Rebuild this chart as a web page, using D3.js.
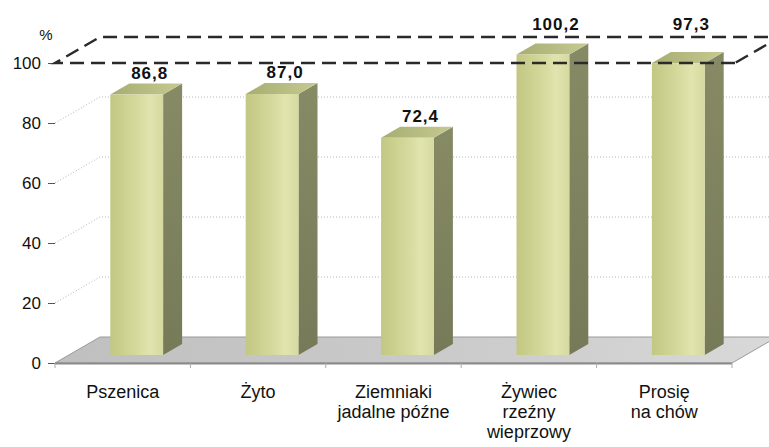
<!DOCTYPE html>
<html>
<head>
<meta charset="utf-8">
<script src="https://cdn.jsdelivr.net/npm/d3@7"></script>
<style>
  body { margin: 0; background: #fff; }
  text { font-family: "Liberation Sans", Arial, sans-serif; fill: #111; }
</style>
</head>
<body>
<div id="chart"></div>
<script>
//DATA
let categories = ["Pszenica", "Żyto", "Ziemniaki jadalne późne", "Żywiec rzeźny wieprzowy", "Prosię na chów"];
let categoryLines = [["Pszenica"], ["Żyto"], ["Ziemniaki", "jadalne późne"], ["Żywiec", "rzeźny", "wieprzowy"], ["Prosię", "na chów"]];
let values = [86.8, 87.0, 72.4, 100.2, 97.3];
let yTicks = [0, 20, 40, 60, 80, 100];
let gridTicks = [20, 40, 60, 80];
let yUnit = "%";

//DIMENSIONS
let WIDTH = 769, HEIGHT = 447;
let DX = 45, DY = 26;          // floor depth
let BAR_OFF_X = 14, BAR_OFF_Y = 8;   // bar position inside floor depth
let BAR_DX = 19, BAR_DY = 11;  // bar depth

let svg = d3.select("#chart").append("svg")
  .attr("width", WIDTH).attr("height", HEIGHT);

let x = d3.scaleBand().domain(categories).range([55, 732]);
let y = d3.scaleLinear().domain([0, 100]).range([363, 63]);
let barW = x.bandwidth() * 0.39;

//GRADIENTS
let defs = svg.append("defs");
function grad(id, stops, x2, y2) {
  let g = defs.append("linearGradient").attr("id", id)
    .attr("x1", 0).attr("y1", 0).attr("x2", x2).attr("y2", y2);
  stops.forEach(s => g.append("stop").attr("offset", s[0]).attr("stop-color", s[1]));
}
grad("front", [[0, "#c2c783"], [0.45, "#d3d799"], [0.75, "#e1e4ae"], [1, "#d6d99f"]], 1, 0);
grad("side", [[0, "#868b65"], [1, "#767a58"]], 0, 1);
grad("top", [[0, "#a7ad72"], [1, "#c6ca91"]], 1, 0);
grad("floor", [[0, "#bfbfbf"], [0.6, "#cccccc"], [1, "#d9d9d9"]], 1, 0);

//FLOOR
let x0 = x.range()[0], x1 = x.range()[1];
svg.append("path")
  .attr("d", `M${x0},${y(0)} L${x0 + DX},${y(0) - DY} L${x1 + DX},${y(0) - DY} L${x1},${y(0)} Z`)
  .attr("fill", "url(#floor)")
  .attr("stroke", "#9a9a9a").attr("stroke-width", 1);
svg.append("line")
  .attr("x1", x0).attr("x2", x1).attr("y1", y(0) + 0.5).attr("y2", y(0) + 0.5)
  .attr("stroke", "#8a8a8a").attr("stroke-width", 2);

//GRIDLINES (back wall + side diagonal)
let grid = svg.append("g").attr("stroke", "#b5b5b5").attr("stroke-dasharray", "1,2").attr("fill", "none");
gridTicks.forEach(t => {
  grid.append("path")
    .attr("d", `M${x0},${y(t)} L${x0 + DX},${y(t) - DY} L${x1 + DX},${y(t) - DY}`);
});

//Y AXIS
let yAxis = svg.append("g")
  .attr("transform", `translate(${x0},0)`)
  .call(d3.axisLeft(y).tickValues(yTicks).tickSize(7).tickPadding(7));
yAxis.select(".domain").remove();
yAxis.selectAll(".tick line").attr("stroke", "#555");
yAxis.selectAll(".tick text")
  .style("font-size", "17px").style("font-family", "Liberation Sans, Arial, sans-serif").attr("fill", "#111");

svg.append("text")
  .attr("x", 46).attr("y", 40)
  .attr("text-anchor", "middle")
  .style("font-size", "15px")
  .text(yUnit);

//CATEGORY TICKS
svg.append("g").selectAll("line")
  .data(categories.map(c => x(c)).concat([x1]))
  .enter().append("line")
  .attr("x1", d => d).attr("x2", d => d)
  .attr("y1", y(0)).attr("y2", y(0) + 5)
  .attr("stroke", "#aaa");

//BARS
let bars = svg.append("g").selectAll("g")
  .data(categories)
  .enter().append("g");

bars.each(function (c, i) {
  let g = d3.select(this);
  let bx = x(c) + (x.bandwidth() - barW) / 2 + BAR_OFF_X;
  let by0 = y(0) - BAR_OFF_Y;
  let byt = y(values[i]) - BAR_OFF_Y;
  // side
  g.append("path")
    .attr("d", `M${bx + barW},${by0} L${bx + barW + BAR_DX},${by0 - BAR_DY} L${bx + barW + BAR_DX},${byt - BAR_DY} L${bx + barW},${byt} Z`)
    .attr("fill", "url(#side)");
  // top
  g.append("path")
    .attr("d", `M${bx},${byt} L${bx + BAR_DX},${byt - BAR_DY} L${bx + barW + BAR_DX},${byt - BAR_DY} L${bx + barW},${byt} Z`)
    .attr("fill", "url(#top)");
  // front
  g.append("rect")
    .attr("x", bx).attr("y", byt)
    .attr("width", barW).attr("height", by0 - byt)
    .attr("fill", "url(#front)");
});

//DASHED 100 PLANE
let y100 = y(100);
svg.append("path")
  .attr("d", `M${x1 + 3},${y100} L${x0},${y100} L${x0 + DX},${y100 - DY} L${x1 + DX + 3},${y100 - DY} L${x1 + 3},${y100}`)
  .attr("fill", "none")
  .attr("stroke", "#2a2a2a")
  .attr("stroke-width", 2.5)
  .attr("stroke-dasharray", "14,7");

//VALUE LABELS
let fmt = d3.format(".1f");
svg.append("g").selectAll("text")
  .data(values)
  .enter().append("text")
  .attr("x", (d, i) => x(categories[i]) + x.bandwidth() / 2 + BAR_OFF_X + 13)
  .attr("y", d => {
    let top = y(d) - BAR_OFF_Y - BAR_DY - 5;
    return d > 90 ? Math.min(top, y100 - DY - 7) : top;
  })
  .attr("text-anchor", "middle")
  .style("font-size", "17px")
  .style("font-weight", "bold")
  .style("letter-spacing", "1px")
  .text(d => fmt(d).replace(".", ","));

//CATEGORY LABELS
let catLabels = svg.append("g").selectAll("text")
  .data(categories)
  .enter().append("text")
  .attr("text-anchor", "middle")
  .style("font-size", "18px");
catLabels.each(function (c, i) {
  let t = d3.select(this);
  categoryLines[i].forEach((line, j) => {
    t.append("tspan")
      .attr("x", x(c) + x.bandwidth() / 2)
      .attr("y", 398 + j * 20)
      .text(line);
  });
});
</script>
</body>
</html>
